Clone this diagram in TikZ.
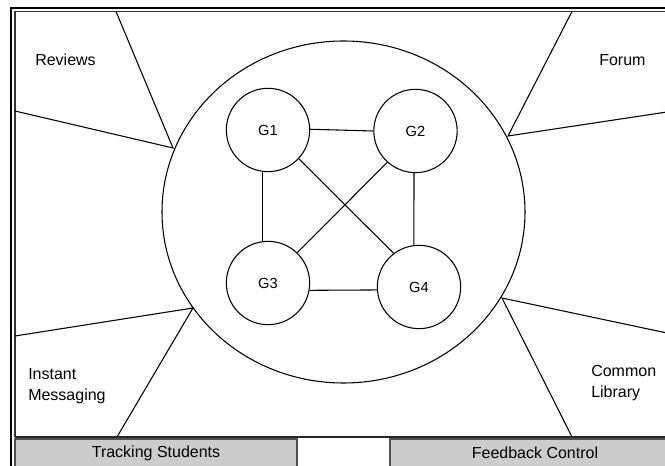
\documentclass[tikz,border=0pt]{standalone}
\usepackage{fontspec}
\setmainfont{Liberation Sans}
\usetikzlibrary{shapes.geometric}
\definecolor{barfill}{HTML}{CCCCCC}
\definecolor{bardraw}{HTML}{505050}
\begin{document}
\begin{tikzpicture}[x=0.75pt,y=-0.75pt,
  ln/.style={line width=0.8pt,black},
  gnode/.style={draw,circle,line width=0.8pt,minimum size=62.5pt,inner sep=0pt,font=\fontsize{11}{13}\selectfont},
  lbl/.style={anchor=west,align=left,inner sep=0pt,font=\fontsize{12}{15.8}\selectfont},
  bar/.style={draw=bardraw,fill=barfill,line width=0.8pt,font=\fontsize{12}{14}\selectfont}]
\useasboundingbox (0,0) rectangle (665,466);
\clip (0,0) rectangle (665,466);
% frame
\draw[line width=1.6pt] (11,480) -- (11,8) -- (700,8);
\draw[line width=0.9pt,black!80] (15,437) -- (15,11.5) -- (700,11.5);
\draw[line width=0.9pt,black!85] (15,437) -- (700,437);
% bottom bars
\node[bar,minimum width=211.5pt,minimum height=21pt,inner sep=0pt] (ts) at (156,453) {Tracking Students};
\node[bar,minimum width=217.5pt,minimum height=21pt,inner sep=0pt] (fc) at (535,453) {Feedback Control};
% main ellipse
\node[draw,ellipse,line width=0.8pt,minimum width=272.25pt,minimum height=256.5pt,inner sep=0pt] (main) at (343.5,212) {};
% peripheral regions
\coordinate (rvA) at (173,148);
\coordinate (rv1) at (116,11.5);
\coordinate (rv2) at (15,111);
\coordinate (foA) at (508,136);
\coordinate (fo1) at (572,11.5);
\coordinate (fo2) at (700,107);
\coordinate (imA) at (193,308);
\coordinate (im1) at (15,336);
\coordinate (im2) at (117,437);
\coordinate (clA) at (502,298);
\coordinate (cl1) at (700,340);
\coordinate (cl2) at (572,437);
\draw[ln] (rv1) -- (rvA) -- (rv2);
\draw[ln] (fo1) -- (foA) -- (fo2);
\draw[ln] (im1) -- (imA) -- (im2);
\draw[ln] (cl1) -- (clA) -- (cl2);
\node[lbl] (rv) at (35,60) {Reviews};
\node[lbl] (fo) at (599,60) {Forum};
\node[lbl] (im) at (28,386) {Instant\\Messaging};
\node[lbl] (cl) at (591,383) {Common\\Library};
% inner graph
\node[gnode] (G1) at (268,130) {G1};
\node[gnode] (G2) at (415.5,131) {G2};
\node[gnode] (G3) at (268,283) {G3};
\node[gnode] (G4) at (419,287) {G4};
\draw[ln] (G1.1) -- (G2.180);
\draw[ln] (G3.-10) -- (G4.184);
\draw[ln] (G1.263) -- (G3.97);
\draw[ln] (G2.268) -- (G4.97);
\draw[ln] (G1.-43) -- (G4.127);
\draw[ln] (G2.228) -- (G3.46);
\end{tikzpicture}
\end{document}
